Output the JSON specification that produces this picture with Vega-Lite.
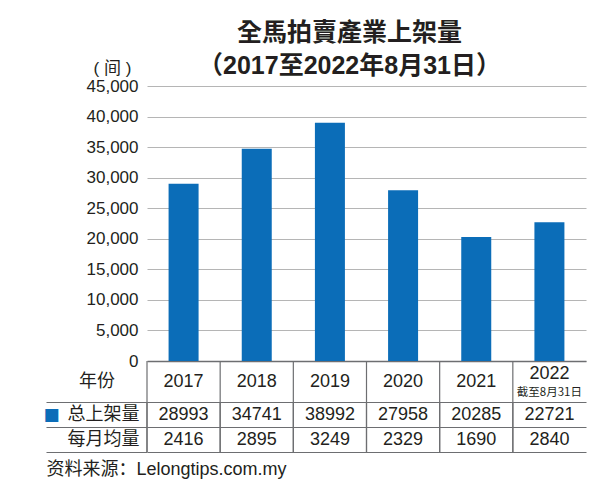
{
  "$schema": "https://vega.github.io/schema/vega-lite/v6.json",
  "padding": {"left": 42, "top": 21, "right": 10, "bottom": 5},
  "background": "white",
  "config": {
    "view": {"stroke": null},
    "font": "Liberation Sans, Noto Sans CJK SC",
    "text": {"font": "Liberation Sans, Noto Sans CJK SC", "fontSize": 18, "color": "#231f20"}
  },
  "title": {
    "text": ["全馬拍賣產業上架量", "（2017至2022年8月31日）"],
    "font": "Liberation Sans, Noto Sans CJK TC",
    "fontSize": 25,
    "fontWeight": "bold",
    "color": "#231f20",
    "lineHeight": 33,
    "anchor": "middle",
    "dx": 35,
    "offset": -20
  },
  "data": {
    "values": [
      {"year": "2017", "总上架量": 28993, "每月均量": 2416, "note": ""},
      {"year": "2018", "总上架量": 34741, "每月均量": 2895, "note": ""},
      {"year": "2019", "总上架量": 38992, "每月均量": 3249, "note": ""},
      {"year": "2020", "总上架量": 27958, "每月均量": 2329, "note": ""},
      {"year": "2021", "总上架量": 20285, "每月均量": 1690, "note": ""},
      {"year": "2022", "总上架量": 22721, "每月均量": 2840, "note": "截至8月31日"}
    ]
  },
  "spacing": 0,
  "bounds": "flush",
  "resolve": {"scale": {"x": "independent", "y": "independent"}},
  "vconcat": [
    {
      "width": 439,
      "height": 275,
      "mark": {"type": "bar", "color": "#0b6db8"},
      "encoding": {
        "x": {
          "field": "year", "type": "ordinal",
          "scale": {"paddingInner": 0.59, "paddingOuter": 0.295},
          "axis": {"labels": false, "ticks": false, "domain": true, "domainColor": "#6d6e71", "domainWidth": 1.5, "title": null, "grid": false}
        },
        "y": {
          "field": "总上架量", "type": "quantitative",
          "scale": {"domain": [0, 45000], "nice": false},
          "axis": {
            "values": [0, 5000, 10000, 15000, 20000, 25000, 30000, 35000, 40000, 45000],
            "format": ",d",
            "labelFontSize": 17, "labelColor": "#231f20", "labelPadding": 9,
            "ticks": false, "domain": false,
            "grid": true, "gridColor": "#b5b5b5", "gridWidth": 1,
            "minExtent": 101,
            "title": "( 间 )", "titleAngle": 0, "titleX": -35, "titleY": -18,
            "titleAlign": "center", "titleBaseline": "middle",
            "titleFontSize": 17, "titleFontWeight": "normal", "titleColor": "#231f20",
            "titleFont": "Liberation Sans, Noto Sans CJK SC"
          }
        }
      }
    },
    {
      "width": 439,
      "height": 41,
      "layer": [
        {
          "mark": {"type": "rule", "color": "#6d6e71", "strokeWidth": 1.2},
          "encoding": {
            "x": {"field": "year", "type": "ordinal", "bandPosition": 0, "scale": {"type": "band", "paddingInner": 0, "paddingOuter": 0}, "axis": null}
          }
        },
        {
          "transform": [{"filter": "datum.note == ''"}],
          "mark": {"type": "text", "fontSize": 18},
          "encoding": {
            "x": {"field": "year", "type": "ordinal", "axis": null},
            "y": {
              "datum": "年份", "type": "nominal",
              "scale": {"type": "band", "paddingInner": 0, "paddingOuter": 0},
              "axis": {
                "title": null, "ticks": true, "tickSize": 101, "tickColor": "#6d6e71", "tickWidth": 1.2,
                "bandPosition": 1, "grid": true, "gridColor": "#6d6e71", "gridWidth": 1.2,
                "domain": false, "labelPadding": -50.5, "labelAlign": "center",
                "labelFontSize": 18, "labelColor": "#231f20", "labelFont": "Noto Sans CJK SC", "minExtent": 101
              }
            },
            "text": {"field": "year"}
          }
        },
        {
          "transform": [{"filter": "datum.note != ''"}],
          "mark": {"type": "text", "fontSize": 18, "dy": -8},
          "encoding": {
            "x": {"field": "year", "type": "ordinal", "axis": null},
            "y": {"datum": "年份", "type": "nominal"},
            "text": {"field": "year"}
          }
        },
        {
          "transform": [{"filter": "datum.note != ''"}],
          "mark": {"type": "text", "fontSize": 11.5, "dy": 11, "font": "Noto Sans CJK SC"},
          "encoding": {
            "x": {"field": "year", "type": "ordinal", "axis": null},
            "y": {"datum": "年份", "type": "nominal"},
            "text": {"field": "note"}
          }
        }
      ]
    },
    {
      "width": 439,
      "height": 50,
      "transform": [{"fold": ["总上架量", "每月均量"], "as": ["row", "value"]}],
      "layer": [
        {
          "mark": {"type": "rule", "color": "#6d6e71", "strokeWidth": 1.2},
          "encoding": {
            "x": {
              "field": "year", "type": "ordinal", "bandPosition": 0,
              "scale": {"type": "band", "paddingInner": 0, "paddingOuter": 0},
              "axis": {
                "labels": false, "ticks": false, "domain": false, "grid": false,
                "title": "资料来源：Lelongtips.com.my",
                "titleX": -101, "titleY": 17, "titleAlign": "left", "titleBaseline": "middle",
                "titleFontSize": 18, "titleFontWeight": "normal", "titleFont": "Liberation Sans, Noto Sans CJK SC", "titleColor": "#231f20"
              }
            }
          }
        },
        {
          "mark": {"type": "text", "fontSize": 18},
          "encoding": {
            "x": {
              "field": "year", "type": "ordinal",
              "axis": {
                "labels": false, "ticks": false, "domain": false, "grid": false,
                "title": "资料来源：Lelongtips.com.my",
                "titleX": -101, "titleY": 17, "titleAlign": "left", "titleBaseline": "middle",
                "titleFontSize": 18, "titleFontWeight": "normal", "titleFont": "Liberation Sans, Noto Sans CJK SC", "titleColor": "#231f20"
              }
            },
            "y": {
              "field": "row", "type": "nominal", "sort": ["总上架量", "每月均量"],
              "scale": {"type": "band", "paddingInner": 0, "paddingOuter": 0},
              "axis": {
                "title": "■", "titleX": -96, "titleY": 12.5, "titleAngle": 0,
                "titleAlign": "center", "titleBaseline": "middle", "titleColor": "#0b6db8",
                "titleFontSize": 17, "titleFont": "DejaVu Sans", "titleFontWeight": "normal",
                "ticks": true, "tickSize": 101, "tickColor": "#6d6e71", "tickWidth": 1.2,
                "bandPosition": 1, "grid": true, "gridColor": "#6d6e71", "gridWidth": 1.2,
                "domain": false, "labelPadding": -93, "labelAlign": "right",
                "labelFontSize": 18, "labelColor": "#231f20", "labelFont": "Noto Sans CJK SC", "minExtent": 101
              }
            },
            "text": {"field": "value", "type": "quantitative", "format": "d"}
          }
        }
      ]
    }
  ]
}
